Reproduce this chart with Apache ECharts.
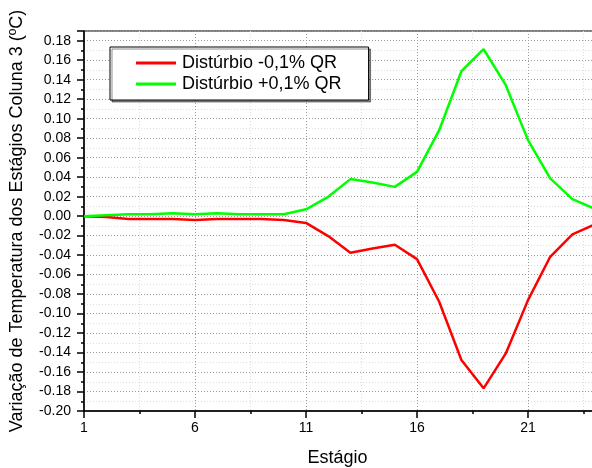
<!DOCTYPE html>
<html>
<head>
<meta charset="utf-8">
<script src="https://cdn.jsdelivr.net/npm/echarts@6/dist/echarts.min.js"></script>
<style>
html,body{margin:0;padding:0;background:#fff;}
#chart{width:592px;height:468px;}
</style>
</head>
<body>
<div id="chart"></div>
<script>
var stages = [1,2,3,4,5,6,7,8,9,10,11,12,13,14,15,16,17,18,19,20,21,22,23,24];
var seriesNames = ['Distúrbio -0,1% QR', 'Distúrbio +0,1% QR'];
var minusValues = [0,-0.001,-0.003,-0.003,-0.003,-0.004,-0.003,-0.003,-0.003,-0.004,-0.007,-0.0205,-0.0376,-0.0332,-0.0294,-0.0441,-0.0879,-0.1477,-0.1767,-0.1409,-0.0862,-0.0417,-0.0188,-0.0085];
var plusValues = [0,0.001,0.002,0.002,0.003,0.002,0.003,0.002,0.002,0.002,0.007,0.0198,0.038,0.0346,0.030,0.0454,0.0882,0.1487,0.1713,0.1344,0.078,0.0387,0.0174,0.0075];
var xTicks = {min:1, max:26, interval:5};
var yTicks = {min:-0.2, max:0.19, interval:0.02};

function pairs(xs, ys){ return xs.map(function(x,i){return [x, ys[i]];}); }

var chart = echarts.init(document.getElementById('chart'));
var font = 'Liberation Sans, Arial, sans-serif';
chart.setOption({
  animation:false,
  backgroundColor:'#fff',
  grid:{left:84, width:555, top:31, bottom:57, show:true, borderColor:'#000', borderWidth:1,
        containLabel:false, outerBoundsMode:'none'},
  legend:{
    left:110, top:47, orient:'vertical',
    data:seriesNames,
    icon:'rect', itemWidth:40, itemHeight:3, itemGap:3,
    padding:[7,27,7,26],
    backgroundColor:'#fff', borderColor:'#000', borderWidth:1,
    shadowColor:'rgba(0,0,0,0.45)', shadowOffsetX:2, shadowOffsetY:2, shadowBlur:0,
    textStyle:{fontFamily:font, fontSize:18, color:'#000', padding:[0,0,0,1]}
  },
  xAxis:{
    type:'value', min:xTicks.min, max:xTicks.max, interval:xTicks.interval,
    name:'Estágio', nameLocation:'middle', nameGap:38,
    nameTextStyle:{fontFamily:font, fontSize:18, color:'#000', padding:[0,48,0,0]},
    axisLine:{onZero:false, lineStyle:{color:'#000', width:1.5}},
    axisTick:{inside:false, length:7, lineStyle:{color:'#000', width:1.5}},
    minorTick:{show:true, splitNumber:2, length:3, lineStyle:{color:'#000', width:1.5}},
    axisLabel:{fontFamily:font, fontSize:14, color:'#000', margin:10, showMaxLabel:false},
    splitLine:{show:true, lineStyle:{color:'#999', type:[1,2], width:1}},
    minorSplitLine:{show:true, lineStyle:{color:'#ddd', type:[1,2], width:1}}
  },
  yAxis:{
    type:'value', min:yTicks.min, max:yTicks.max, interval:yTicks.interval,
    name:'Variação de Temperatura dos Estágios Coluna 3 (ºC)', nameLocation:'middle', nameGap:58,
    nameTextStyle:{fontFamily:font, fontSize:18, color:'#000'},
    axisLine:{show:true, onZero:false, lineStyle:{color:'#000', width:1.5}},
    axisTick:{show:true, inside:false, length:7, lineStyle:{color:'#000', width:1.5}},
    minorTick:{show:true, splitNumber:2, length:3, lineStyle:{color:'#000', width:1.5}},
    axisLabel:{fontFamily:font, fontSize:14, color:'#000', margin:13, showMaxLabel:false,
      formatter:function(v){ if(Math.abs(v)<1e-9) return '0.00'; return v.toFixed(2); }},
    splitLine:{show:true, lineStyle:{color:'#999', type:[1,2], width:1}},
    minorSplitLine:{show:true, lineStyle:{color:'#ddd', type:[1,2], width:1}}
  },
  series:[
    {name:seriesNames[0], type:'line', data:pairs(stages, minusValues), showSymbol:false, symbol:'none',
     lineStyle:{color:'#ff0000', width:2.5}, itemStyle:{color:'#ff0000'}, z:3},
    {name:seriesNames[1], type:'line', data:pairs(stages, plusValues), showSymbol:false, symbol:'none',
     lineStyle:{color:'#00ff00', width:2.5}, itemStyle:{color:'#00ff00'}, z:4}
  ]
});
</script>
</body>
</html>
